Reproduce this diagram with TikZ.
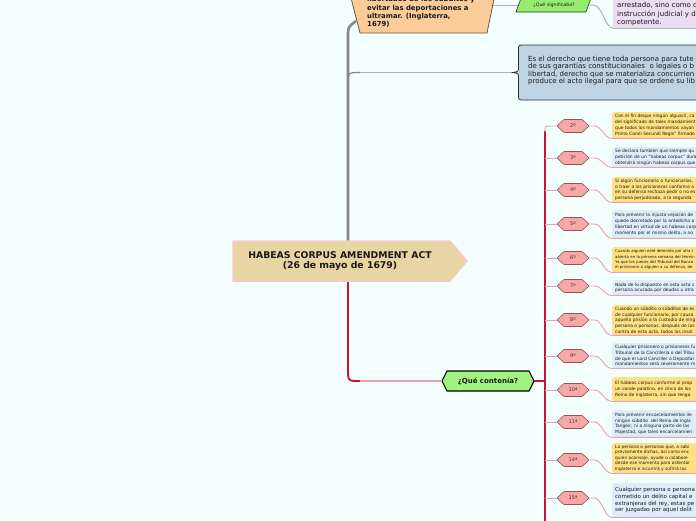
\documentclass[tikz,border=0pt]{standalone}
\usepackage{fontspec}
\setmainfont{DejaVu Sans}
\definecolor{bgc}{RGB}{242,255,253}
\definecolor{grayc}{RGB}{135,135,135}
\definecolor{lgrayc}{RGB}{178,178,178}
\definecolor{redc}{RGB}{205,18,55}
\definecolor{pinkc}{RGB}{232,160,178}
\definecolor{tanc}{RGB}{233,212,164}
\definecolor{tanbd}{RGB}{248,202,202}
\definecolor{orangec}{RGB}{251,204,154}
\definecolor{orangebd}{RGB}{110,85,60}
\definecolor{greenc}{RGB}{162,242,130}
\definecolor{lgreenc}{RGB}{150,236,110}
\definecolor{lavc}{RGB}{234,221,244}
\definecolor{steelc}{RGB}{190,212,226}
\definecolor{darkc}{RGB}{50,50,50}
\definecolor{hexc}{RGB}{249,168,168}
\definecolor{hexbd}{RGB}{150,85,90}
\definecolor{hextxt}{RGB}{90,40,40}
\definecolor{yboxc}{RGB}{255,225,130}
\definecolor{bboxc}{RGB}{221,238,250}
\definecolor{txtc}{RGB}{25,25,25}
\newcommand\hexshape[6]{%
  \draw[#1] ({#2-#4},{#3}) -- ({#2-#4+#6},{#3-#5}) -- ({#2+#4-#6},{#3-#5}) -- ({#2+#4},{#3}) -- ({#2+#4-#6},{#3+#5}) -- ({#2-#4+#6},{#3+#5}) -- cycle;}
\tikzset{
  grayline/.style={draw=grayc, line width=2.6pt},
  graymid/.style={draw=grayc, line width=1.2pt},
  lgline/.style={draw=lgrayc, line width=1pt},
  redline/.style={draw=redc, line width=1.9pt},
  pinkthin/.style={draw=pinkc, line width=0.9pt},
  pinkmid/.style={draw=pinkc, line width=1.3pt},
  hexsty/.style={fill=hexc, draw=hexbd, line width=0.6pt},
  hexlab/.style={inner sep=0pt, minimum width=32pt, minimum height=13pt, font=\fontsize{5}{6}\selectfont, text=hextxt},
  boxy/.style={anchor=north west, rounded corners=2.5pt, text width=110pt, inner xsep=3pt, inner ysep=0pt, align=left, text=txtc, font=\fontsize{4.4}{5.7}\selectfont},
  ybx/.style={boxy, fill=yboxc},
  bbx/.style={boxy, fill=bboxc},
  hexconn/.style={pinkthin},
}
\begin{document}
\begin{tikzpicture}[x=1pt,y=-1pt]
\useasboundingbox (0,0) rectangle (696,520);
\clip (0,0) rectangle (696,520);
\fill[bgc] (0,0) rectangle (696,520);

% coordinates
\coordinate (ctop) at (348,241);
\coordinate (cbot) at (348,281);
\coordinate (bar) at (545,0);
\coordinate (orR) at (493,5);
\coordinate (brace) at (513,72.5);
\coordinate (purp) at (613,28);
\coordinate (purpR) at (700,28);

% gray connectors
\draw[grayline] (ctop) -- (348,36) .. controls (348,27) .. (356,21);
\draw[graymid] (ctop) -- (348,84) .. controls (348,72.5) .. (360,72.5);
\draw[lgline] (360,72.5) -- (brace);
\draw[lgline] (orR) -- (550,5);

% red connector to "¿Qué contenía?"
\draw[redline] (cbot) -- (348,369) .. controls (348,381) .. (360,381);

% top orange node
\draw[fill=orangec, draw=orangebd, line width=0.8pt] (350,-6) -- (360,33) -- (487,33) -- (495,-6) -- (487,-45) -- (360,-45) -- cycle;
\node[anchor=north west, inner sep=0pt, align=left, font=\bfseries\fontsize{6.9}{8.3}\selectfont, text=txtc] (ley) at (367,-4) {libertades de los súbditos y\\evitar las deportaciones a\\ultramar. (Inglaterra,\\1679)};

% ¿Qué significaba?
\draw[fill=lgreenc, draw=darkc, line width=0.6pt] (521,-2) -- (591,-2) -- (586,12) -- (516,12) -- cycle;
\node[inner sep=0pt, minimum width=72pt, minimum height=14pt, font=\fontsize{4.7}{5.5}\selectfont, text=txtc] (sig) at (554,5) {¿Qué significaba?};
\draw[lgline] (sig.east) -- ++(3,0) .. controls +(9,0) and +(-8,0) .. (purp);

% purple box
\fill[lavc] (700,-10) -- (613,-10) -- (613,24) .. controls (613,28) .. (617,28) -- (700,28) -- cycle;
\draw[lgline] (purp) -- (purpR);
\node[anchor=north west, inner sep=0pt, align=left, font=\fontsize{7}{8.5}\selectfont, text=txtc] (sig2) at (617,2.2) {arrestado, sino como c\\instrucción judicial y d\\competente.};

% steel blue box with brace
\draw[fill=steelc, draw=darkc, line width=0.8pt] (700,45) -- (524,45) .. controls (518.5,45) .. (518.5,50) -- (518.5,67) .. controls (518.5,71.5) .. (brace) .. controls (518.5,73.5) .. (518.5,78) -- (518.5,95) .. controls (518.5,100) .. (524,100) -- (700,100);
\node[anchor=north west, inner sep=0pt, align=left, font=\fontsize{7}{7.6}\selectfont, text=txtc] (def) at (528,55.5) {Es el derecho que tiene toda persona para tute\\de sus garantías constitucionales \ o legales o b\\libertad, derecho que se materializa concurrien\\produce el acto ilegal para que se ordene su lib};

% central node
\draw[fill=tanc, draw=tanbd, line width=1.5pt] (233,241) -- (450,241) -- (467,261) -- (450,281) -- (233,281) -- cycle;
\node[inner sep=0pt, align=center, font=\bfseries\fontsize{9.3}{10.5}\selectfont, text=txtc] (c) at (340,261) {HABEAS CORPUS AMENDMENT ACT\\(26 de mayo de 1679)};

% ¿Qué contenía?
\hexshape{draw=black, fill=greenc, line width=1.1pt}{488}{381}{46}{10}{5}
\node[inner sep=0pt, minimum width=92pt, minimum height=20pt, font=\bfseries\fontsize{7}{8}\selectfont, text=txtc] (qc) at (488,381) {¿Qué contenía?};
\draw[pinkmid] (360,381) -- (qc.west);
\draw[redline] (qc.east) -- (qc.east -| bar);

% red vertical bar
\draw[redline] (545,131) -- (545,530);

% numbered hexagons
\hexshape{hexsty}{573}{126}{16}{6.5}{7}
\node[hexlab] (h2) at (573,126) {2º};
\hexshape{hexsty}{573}{158}{16}{6.5}{7}
\node[hexlab] (h3) at (573,158) {3º};
\hexshape{hexsty}{573}{190}{16}{6.5}{7}
\node[hexlab] (h4) at (573,190) {4º};
\hexshape{hexsty}{573}{224}{16}{6.5}{7}
\node[hexlab] (h5) at (573,224) {5º};
\hexshape{hexsty}{573}{258}{16}{6.5}{7}
\node[hexlab] (h6) at (573,258) {6º};
\hexshape{hexsty}{573}{286}{16}{6.5}{7}
\node[hexlab] (h7) at (573,286) {7º};
\hexshape{hexsty}{573}{320}{16}{6.5}{7}
\node[hexlab] (h8) at (573,320) {8º};
\hexshape{hexsty}{573}{356}{16}{6.5}{7}
\node[hexlab] (h9) at (573,356) {9º};
\hexshape{hexsty}{573}{390}{16}{6.5}{7}
\node[hexlab] (h10) at (573,390) {10ª};
\hexshape{hexsty}{573}{422}{16}{6.5}{7}
\node[hexlab] (h11) at (573,422) {11ª};
\hexshape{hexsty}{573}{460}{16}{6.5}{7}
\node[hexlab] (h14) at (573,460) {14ª};
\hexshape{hexsty}{573}{498}{16}{6.5}{7}
\node[hexlab] (h15) at (573,498) {15ª};

% branches from bar
\draw[pinkthin] (545,132) .. controls (545,126) .. (551,126) -- (h2.west);
\foreach \n in {3,4,5,6,7,8,9,10,11,14,15}{
  \draw[pinkthin] (h\n.west -| bar) -- (h\n.west);
}

% text boxes
\node[ybx, minimum height=26pt] (b2) at (612,112) {Con el fin deque ningún alguacil, ca\\del significado de tales mandamient\\que todos los mandamientos vayan\\Primo Caroli Secundi Regis" firmado};
\node[bbx, minimum height=20pt] (b3) at (612,147) {Se declara también que siempre qu\\petición de un "habeas corpus" dura\\obtendrá ningún habeas corpus que};
\node[ybx, minimum height=25pt] (b4) at (612,177) {Si algún funcionario o funcionarios,\\o traer a los prisioneros conforme a\\en su defensa rechaza pedir o no es\\persona perjudicada, a la segunda};
\node[bbx, minimum height=28pt] (b5) at (612,210) {Para prevenir la injusta vejación de\\quede decretado por la antedicha a\\libertad en virtud de un habeas corp\\momento por el mismo delito, a no};
\node[ybx, minimum height=25pt, font=\fontsize{3.9}{5.3}\selectfont] (b6) at (612,247) {Cuando alguien esté detenido por alta t\\abierta en la primera semana del términ\\Ya que los jueces del Tribunal del Banco\\el prisionero o alguien a su defensa, de};
\node[bbx, minimum height=15pt] (b7) at (612,280) {Nada de lo dispuesto en esta acta s\\persona acusada por deudas u otra};
\node[ybx, minimum height=30pt] (b8) at (612,305) {Cuando un súbdito o súbditos de es\\de cualquier funcionario, por causa\\aquella prisión a la custodia de ning\\persona o personas, después de las\\contra de esta acta, todos los insol};
\node[bbx, minimum height=25pt] (b9) at (612,343) {Cualquier prisionero o prisioneros fu\\Tribunal de la Cancillería o del Tribu\\de que el Lord Canciller o Depositar\\mandamientos será severamente m};
\node[ybx, minimum height=24pt] (b10) at (612,377) {El habeas corpus conforme al prop\\un conde palatino, en cinco de los\\Reino de Inglaterra, sin que tenga};
\node[bbx, minimum height=27pt] (b11) at (612,410) {Para prevenir encarcelamientos ile\\ningún súbdito \ del Reino de Ingla\\Tangeir, ni a ninguna parte de las\\Majestad, que tales encarcelamien};
\node[ybx, minimum height=30pt, font=\fontsize{4.3}{5.6}\selectfont] (b14) at (612,443) {La persona o personas que, a sabi\\previamente dichas, así como enc\\quien aconseje, ayude o colabore\\desde ese momento para ostentar\\Inglaterra e incurrirá y sufrirá las};
\node[bbx, minimum height=34pt, font=\fontsize{5.5}{6.7}\selectfont] (b15) at (612,483) {Cualquier persona o persona\\cometido un delito capital e\\extranjeras del rey, estas pe\\ser juzgadas por aquel delit};

% connectors hex -> box
\foreach \n in {2,3,4,5,6,7,8,9,10,11,14,15}{
  \draw[hexconn] (h\n.east) -- ++(5,0) .. controls +(8,0) and +(-8,0) .. (b\n.south west) -- (b\n.south east);
}
\end{tikzpicture}
\end{document}
